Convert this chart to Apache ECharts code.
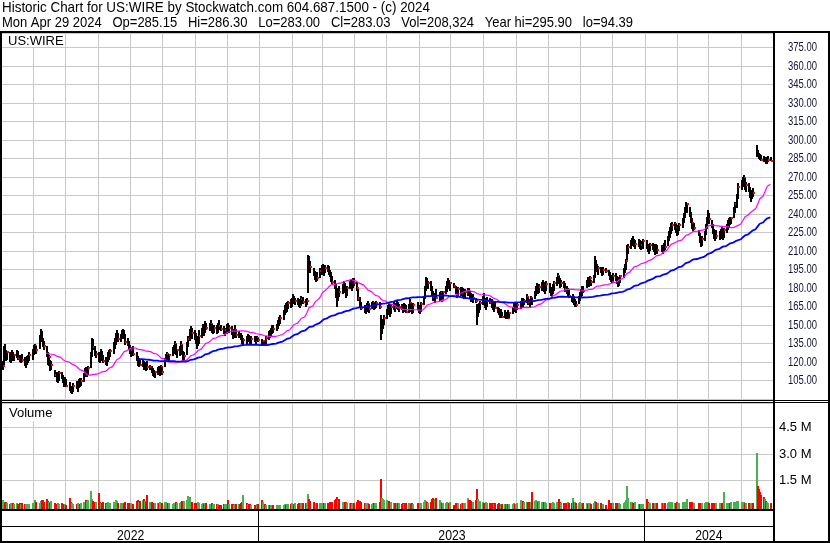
<!DOCTYPE html>
<html>
<head>
<meta charset="utf-8">
<title>Historic Chart for US:WIRE</title>
<script src="https://cdn.jsdelivr.net/npm/echarts@6.0.0/dist/echarts.min.js"></script>
<style>
    html, body { margin: 0; padding: 0; background: #fff; }
    #chart { width: 830px; height: 543px; }
</style>
</head>
<body>
<div id="chart"></div>
<script>
// Daily bars, one line per week (Mon..Fri), first week starts Mon 2 May 2022.
// null = market holiday (no bar that day).
const highs = [
    121, 133, 135, 130, 129,
    128, 126, 130, 128, 127,
    130, 129, 126, 125, 127,
    124, 122, 125, 126, 128,
    null, 131, 134, 135, 133,
    142, 147, 145, 140, 137,
    133, 128, 126, 122, 121,
    null, 114, 112, 110, 113,
    112, 110, 107, 108, 106,
    null, 104, 101, 100, 103,
    105, 103, 106, 107, 107,
    111, 115, 116, 114, 117,
    128, 140, 139, 133, 129,
    128, 127, 131, 129, 126,
    124, 123, 128, 130, 131,
    136, 140, 144, 146, 144,
    143, 146, 147, 146, 143,
    140, 137, 134, 132, 133,
    null, 128, 125, 123, 122,
    122, 121, 120, 119, 121,
    118, 117, 115, 114, 113,
    116, 117, 115, 118, 116,
    123, 127, 128, 126, 127,
    132, 134, 137, 135, 131,
    133, 137, 134, 129, 128,
    136, 141, 147, 149, 148,
    146, 144, 140, 141, 146,
    148, 151, 149, 153, 152,
    152, 154, 151, 149, 150,
    150, 152, 154, null, 150,
    149, 148, 151, 152, 150,
    149, 146, 147, 150, 146,
    145, 144, 144, 142, 140,
    141, 143, 142, 140, 141,
    null, 141, 140, 141, 140,
    null, 139, 138, 137, 141,
    145, 146, 148, 150, 150,
    null, 151, 154, 157, 158,
    162, 166, 168, 169, 170,
    171, 172, 175, 174, 172,
    172, 171, 170, 174, 173,
    171, 172, 207, 206, 202,
    null, 196, 194, 192, 193,
    196, 199, 200, 198, 199,
    199, 198, 195, 193, 190,
    187, 183, 177, 180, 182,
    183, 186, 184, 180, 182,
    186, 187, 185, 188, 188,
    185, 179, 173, 169, null,
    166, 165, 168, 170, 167,
    169, 170, 168, 169, 170,
    169, 158, 152, 155, 158,
    163, 166, 169, 164, 167,
    169, 168, 170, 169, 167,
    167, 166, 168, 167, 166,
    167, 171, 168, 165, 168,
    null, 169, 166, 165, 169,
    174, 182, 189, 188, 186,
    186, 182, 178, 176, 179,
    null, 177, 178, 176, 178,
    182, 186, 188, 187, 185,
    184, null, 182, 179, 181,
    181, 181, 180, 178, 179,
    180, 180, 178, 176, 175,
    172, 167, 166, 168, 170,
    174, 176, 172, 170, 173,
    172, 171, 169, 168, 170,
    165, 164, 162, 163, 161,
    162, 160, 161, 162, 161,
    165, 168, 169, 166, 168,
    null, 170, 172, 172, 171,
    175, 173, 171, 174, 172,
    178, 182, 184, 182, 183,
    185, 187, 185, 183, 186,
    184, 181, 180, 183, 186,
    189, 192, 190, 188, 187,
    186, 184, 182, 180, 179,
    174, 175, 172, 171, 170,
    174, 177, 179, 182, 182,
    187, 189, 188, 190, 187,
    191, 206, 203, 200, 198,
    197, 196, 197, null, 196,
    195, 193, 191, 190, 192,
    192, 190, 187, 189, 191,
    196, 200, 204, 215, 216,
    219, 221, 222, 220, 219,
    null, 220, 219, 218, 220,
    null, 219, 216, 215, 217,
    217, 216, 214, 216, 215,
    null, 215, 214, 217, 219,
    222, 226, 230, 233, 234,
    234, 232, 229, 231, 233,
    237, 241, 246, 250, 249,
    246, 242, 237, 233, 233,
    null, 227, 225, 221, 222,
    226, 232, 238, 243, 241,
    235, 232, 228, 225, 227,
    226, 228, 230, 227, 229,
    232, 235, 237, 238, 238,
    246, 250, 256, 265, null,
    268, 270, 272, 269, 266,
    265, 262, 258, 260, 261,
    295.9, 292, 290, 289, 288,
    287, 286, 285, 286, 287,
    286.3
];

const lows = [
    114, 118, 124, 121, 122,
    120, 119, 121, 122, 121,
    123, 122, 120, 119, 120,
    117, 115, 118, 119, 121,
    null, 122, 126, 128, 127,
    131, 137, 136, 132, 130,
    124, 118, 117, 113, 114,
    null, 108, 104, 103, 105,
    106, 103, 100, 101, 100,
    null, 97, 95, 94.39, 96,
    98, 96, 99, 100, 101,
    104, 108, 109, 108, 110,
    115, 124, 130, 125, 123,
    120, 119, 121, 122, 119,
    118, 117, 120, 122, 124,
    127, 131, 134, 137, 136,
    136, 139, 140, 139, 134,
    133, 130, 127, 124, 125,
    null, 121, 117, 116, 117,
    116, 114, 115, 113, 114,
    114, 111, 109, 108, 107,
    110, 111, 109, 111, 110,
    116, 120, 121, 120, 120,
    125, 127, 129, 126, 123,
    125, 128, 126, 121, 122,
    126, 132, 137, 140, 139,
    138, 135, 131, 133, 135,
    140, 143, 141, 144, 146,
    145, 146, 144, 143, 144,
    143, 144, 146, null, 145,
    143, 141, 143, 145, 144,
    142, 139, 140, 142, 140,
    140, 141, 138, 135, 134,
    135, 136, 138, 134, 135,
    null, 136, 134, 137, 136,
    null, 134, 133, 133, 135,
    138, 140, 141, 143, 144,
    null, 145, 147, 149, 151,
    154, 158, 160, 161, 163,
    164, 165, 167, 168, 166,
    166, 165, 164, 166, 167,
    165, 166, 176, 195, 192,
    null, 190, 187, 185, 186,
    188, 191, 192, 190, 192,
    193, 191, 189, 185, 183,
    179, 172, 165, 170, 173,
    175, 178, 176, 172, 174,
    179, 180, 178, 180, 182,
    178, 170, 164, 162, null,
    160, 159, 161, 163, 160,
    163, 164, 162, 163, 164,
    163, 138, 143, 147, 150,
    155, 158, 160, 157, 159,
    162, 161, 163, 162, 161,
    162, 160, 161, 162, 160,
    160, 162, 161, 159, 160,
    null, 162, 160, 159, 161,
    166, 171, 178, 180, 179,
    178, 174, 170, 168, 171,
    null, 170, 172, 169, 171,
    175, 177, 179, 180, 178,
    180, null, 175, 172, 173,
    174, 176, 173, 171, 172,
    174, 175, 171, 169, 168,
    168, 150, 157, 160, 162,
    166, 168, 164, 162, 165,
    167, 164, 162, 161, 163,
    160, 158, 156, 157, 156,
    156, 155, 156, 155, 156,
    159, 161, 162, 160, 162,
    null, 163, 164, 165, 166,
    168, 166, 164, 167, 166,
    171, 174, 177, 175, 176,
    178, 180, 177, 175, 178,
    176, 174, 173, 175, 178,
    182, 185, 183, 180, 181,
    180, 177, 175, 173, 172,
    169, 168, 166, 165, 165,
    167, 170, 172, 174, 176,
    180, 182, 181, 183, 182,
    184, 188, 195, 193, 191,
    192, 190, 191, null, 192,
    190, 187, 185, 184, 186,
    186, 183, 181, 182, 184,
    188, 192, 195, 203, 208,
    212, 214, 215, 213, 212,
    null, 213, 212, 211, 212,
    null, 212, 209, 208, 210,
    211, 209, 207, 209, 208,
    null, 209, 208, 210, 211,
    214, 218, 221, 224, 226,
    227, 225, 222, 223, 226,
    229, 233, 237, 241, 241,
    238, 233, 228, 226, 227,
    null, 222, 217, 213, 214,
    218, 223, 228, 233, 232,
    229, 224, 220, 218, 220,
    219, 220, 222, 219, 221,
    225, 227, 229, 231, 232,
    237, 241, 245, 252, null,
    260, 262, 263, 260, 258,
    258, 253, 250, 252, 254,
    286, 286, 285, 284, 283,
    282, 282, 281, 281, 282,
    283.00
];

const closes = [
    117, 130, 127, 124, 128,
    122, 125, 127, 124, 126,
    128, 123, 121, 124, 122,
    119, 121, 122, 124, 126,
    null, 129, 131, 133, 130,
    140, 144, 138, 134, 133,
    126, 121, 124, 116, 118,
    null, 110, 106, 108, 111,
    108, 104, 102, 105, 101,
    null, 99, 96, 98, 101,
    100, 101, 104, 102, 105,
    109, 113, 111, 113, 115,
    126, 137, 132, 127, 127,
    125, 122, 128, 124, 121,
    120, 121, 126, 127, 129,
    134, 138, 141, 143, 139,
    141, 144, 145, 142, 136,
    135, 132, 129, 130, 127,
    null, 123, 119, 120, 118,
    120, 116, 118, 117, 116,
    116, 113, 111, 110, 112,
    114, 113, 114, 116, 112,
    121, 125, 127, 122, 126,
    130, 132, 135, 128, 130,
    131, 134, 127, 123, 125,
    134, 139, 145, 146, 144,
    141, 137, 135, 138, 141,
    146, 147, 145, 150, 148,
    149, 151, 146, 147, 148,
    146, 150, 149, null, 147,
    145, 146, 149, 147, 148,
    143, 141, 145, 146, 142,
    143, 142, 140, 137, 138,
    137, 141, 139, 136, 139,
    null, 138, 137, 140, 138,
    null, 135, 137, 134, 140,
    143, 141, 146, 148, 147,
    null, 149, 152, 153, 156,
    160, 164, 163, 167, 168,
    167, 170, 172, 169, 170,
    168, 167, 166, 171, 169,
    168, 170, 201, 199, 197,
    null, 192, 189, 190, 188,
    194, 196, 197, 195, 196,
    195, 192, 191, 187, 185,
    181, 176, 174, 178, 177,
    181, 183, 178, 177, 180,
    184, 182, 183, 186, 184,
    180, 172, 166, 164, null,
    162, 163, 166, 167, 163,
    167, 168, 164, 166, 168,
    165, 146, 149, 153, 156,
    161, 164, 162, 160, 165,
    166, 164, 168, 163, 165,
    164, 162, 166, 163, 161,
    165, 168, 163, 161, 166,
    null, 164, 161, 162, 167,
    172, 180, 185, 183, 184,
    180, 176, 173, 174, 172,
    null, 175, 176, 171, 177,
    180, 184, 185, 182, 184,
    182, null, 177, 174, 179,
    178, 179, 175, 176, 177,
    178, 176, 173, 171, 172,
    170, 161, 164, 165, 168,
    172, 170, 166, 168, 170,
    169, 166, 164, 165, 164,
    162, 159, 158, 160, 157,
    158, 157, 159, 156, 160,
    163, 166, 164, 165, 166,
    null, 168, 170, 169, 170,
    173, 169, 168, 172, 170,
    176, 180, 181, 178, 181,
    183, 184, 179, 181, 183,
    178, 176, 178, 181, 184,
    187, 190, 185, 182, 184,
    182, 179, 176, 178, 174,
    170, 173, 167, 168, 166,
    172, 175, 177, 180, 178,
    185, 184, 186, 188, 185,
    189, 200, 198, 195, 196,
    194, 193, 195, null, 194,
    192, 189, 187, 186, 190,
    188, 184, 183, 187, 190,
    194, 198, 202, 212, 213,
    216, 218, 217, 215, 216,
    null, 217, 214, 215, 218,
    null, 214, 211, 213, 215,
    214, 210, 212, 213, 211,
    null, 211, 210, 214, 213,
    220, 224, 228, 230, 231,
    232, 229, 224, 229, 231,
    235, 239, 244, 247, 248,
    240, 236, 233, 228, 229,
    null, 224, 219, 216, 220,
    224, 230, 235, 240, 236,
    231, 226, 223, 221, 222,
    224, 226, 225, 223, 227,
    230, 233, 235, 234, 237,
    244, 248, 254, 262, null,
    265, 268, 269, 263, 264,
    261, 255, 256, 258, 257,
    291, 288, 287, 285, 284,
    283, 284, 282, 283, 284,
    283.03
];

// shares traded, thousands
const volumes = [
    380, 300, 240, 260, 200,
    180, 220, 160, 250, 190,
    200, 150, 210, 170, 230,
    160, 190, 140, 170, 150,
    null, 210, 180, 380, 260,
    230, 330, 420, 380, 300,
    460, 350, 300, 240, 330,
    null, 200, 180, 230, 160,
    210, 170, 150, 190, 140,
    null, 517, 260, 210, 170,
    180, 230, 150, 170, 200,
    260, 190, 400, 330, 380,
    926, 450, 330, 260, 280,
    796, 300, 250, 220, 260,
    230, 180, 270, 210, 240,
    280, 260, 420, 360, 230,
    200, 220, 180, 240, 260,
    210, 240, 190, 230, 180,
    null, 330, 380, 300, 350,
    400, 460, 330, 300, 684,
    290, 260, 240, 220, 250,
    200, 240, 260, 210, 230,
    260, 300, 220, 210, 240,
    190, 220, 240, 300, 210,
    230, 260, 340, 280, 330,
    380, 645, 550, 300, 260,
    220, 200, 240, 260, 230,
    180, 210, 190, 230, 200,
    170, 150, 200, 160, 190,
    180, 150, 140, null, 90,
    160, 190, 170, 390, 180,
    170, 160, 140, 180, 150,
    160, 190, 220, 260, 700,
    200, 180, 150, 160, 130,
    null, 140, 120, 150, 160,
    null, 400, 300, 180, 110,
    100, 120, 90, 110, 100,
    null, 110, 100, 130, 120,
    140, 160, 130, 180, 150,
    160, 200, 180, 170, 230,
    190, 220, 170, 240, 200,
    230, 210, 758, 480, 330,
    null, 260, 220, 240, 200,
    230, 200, 210, 240, 220,
    210, 230, 260, 300, 280,
    400, 480, 570, 420, 460,
    280, 240, 260, 300, 230,
    220, 210, 190, 230, 210,
    260, 380, 350, 300, null,
    220, 200, 240, 210, 190,
    180, 220, 200, 230, 210,
    260, 1574, 515, 480, 420,
    380, 320, 360, 300, 280,
    240, 220, 210, 230, 200,
    190, 210, 180, 200, 220,
    200, 230, 190, 210, 180,
    null, 200, 230, 210, 240,
    260, 400, 360, 280, 250,
    300, 460, 520, 480, 520,
    null, 400, 280, 250, 240,
    230, 260, 220, 250, 270,
    120, null, 210, 230, 200,
    190, 220, 200, 230, 210,
    520, 380, 400, 330, 300,
    420, 1020, 460, 350, 320,
    280, 250, 230, 260, 240,
    220, 200, 230, 190, 210,
    180, 200, 170, 190, 160,
    170, 150, 180, 160, 190,
    180, 200, 170, 190, 210,
    null, 380, 300, 330, 280,
    260, 300, 280, 310, 855,
    330, 380, 350, 300, 360,
    280, 250, 300, 270, 240,
    220, 250, 230, 260, 240,
    300, 280, 450, 260, 240,
    230, 250, 220, 260, 240,
    250, 520, 300, 260, 240,
    230, 260, 220, 250, 200,
    210, 190, 230, 200, 180,
    220, 320, 260, 230, 210,
    200, 180, 170, null, 110,
    400, 230, 210, 250, 220,
    200, 230, 180, 210, 190,
    240, 300, 420, 1180, 500,
    300, 260, 230, 250, 280,
    null, 160, 170, 150, 180,
    null, 465, 280, 240, 230,
    210, 200, 230, 190, 210,
    null, 220, 200, 230, 210,
    240, 270, 250, 280, 260,
    230, 250, 260, 240, 220,
    260, 280, 300, 270, 465,
    300, 280, 260, 240, 250,
    null, 230, 250, 210, 220,
    240, 260, 280, 300, 250,
    240, 230, 250, 220, 210,
    230, 210, 220, 240, 855,
    250, 230, 240, 220, 260,
    280, 300, 320, 340, null,
    300, 280, 260, 250, 240,
    230, 250, 220, 240, 210,
    3050, 1200, 1000, 870, 680,
    550, 440, 330, 300, 240,
    208
];

const priceTicks = [105, 120, 135, 150, 165, 180, 195, 210, 225, 240, 255, 270, 285, 300, 315, 330, 345, 360, 375];
const yearLabels = ['2022', '2023', '2024'];
const titleLine = 'Historic Chart for US:WIRE by Stockwatch.com 604.687.1500 - (c) 2024';
const quoteLine = 'Mon Apr 29 2024   Op=285.15   Hi=286.30   Lo=283.00   Cl=283.03   Vol=208,324   Year hi=295.90   lo=94.39';

const SANS = "'Liberation Sans', Arial, sans-serif";
const GRID = '#c8c8c8';
const UP = '#4caf50';
const DOWN = '#ff0000';

const DAY = 24 * 3600 * 1000;
const firstMonday = Date.UTC(2022, 4, 2);
const xMin = Date.UTC(2022, 4, 2, 8);
const xMax = Date.UTC(2024, 4, 1, 12);
const VOL_FOOT = 2;   // volume bars run down past zero onto the panel border

// build dated bars
const bars = [];
const vols = [];
let prev = null;
for (let i = 0; i < closes.length; i++) {
    if (closes[i] == null) continue;
    const t = firstMonday + (Math.floor(i / 5) * 7 + (i % 5)) * DAY;
    bars.push([t, lows[i], highs[i], closes[i]]);
    vols.push([t, volumes[i], prev == null || closes[i] >= prev ? 1 : 0]);
    prev = closes[i];
}

function movingAverage(n) {
    const out = [];
    let sum = 0;
    bars.forEach((b, i) => {
        sum += b[3];
        if (i >= n) sum -= bars[i - n][3];
        if (i >= n - 1) out.push([b[0], +(sum / n).toFixed(2)]);
    });
    return out;
}

// month gridlines
const monthStarts = [];
for (let m = 0; m < 23; m++) monthStarts.push(Date.UTC(2022, 5 + m, 1));

function renderMonthLine(params, api) {
    const cs = params.coordSys;
    const x = Math.round(api.coord([api.value(0), api.value(1)])[0]);
    const foot = params.seriesIndex === 1 ? VOL_FOOT : 0;
    return { type: 'rect', shape: { x: x, y: cs.y, width: 1, height: cs.height + foot }, style: { fill: GRID } };
}

function renderPriceBar(params, api) {
    const t = api.value(0);
    const lo = api.coord([t, api.value(1)]);
    const hi = api.coord([t, api.value(2)]);
    const cl = api.coord([t, api.value(3)]);
    const x = Math.round(hi[0]);
    const y1 = Math.round(hi[1]);
    const y2 = Math.round(lo[1]);
    return {
        type: 'group',
        children: [
            { type: 'rect', shape: { x: x, y: y1, width: 2, height: Math.max(2, y2 - y1) }, style: { fill: '#000' } },
            { type: 'rect', shape: { x: x + 1, y: Math.round(cl[1]) - 1, width: 2, height: 2 }, style: { fill: DOWN } }
        ]
    };
}

function renderVolume(params, api) {
    const cs = params.coordSys;
    const p = api.coord([api.value(0), api.value(1)]);
    const base = cs.y + cs.height + VOL_FOOT;
    const x = Math.round(p[0]);
    const y = Math.round(p[1]);
    return {
        type: 'rect',
        shape: { x: x, y: y, width: 2, height: Math.max(1, base - y) },
        style: { fill: api.value(2) ? UP : DOWN }
    };
}

const chart = echarts.init(document.getElementById('chart'));

const hiddenX = {
    type: 'time', min: xMin, max: xMax,
    axisLine: { show: false }, axisTick: { show: false },
    axisLabel: { show: false }, splitLine: { show: false }
};

chart.setOption({
    animation: false,
    useUTC: true,
    backgroundColor: '#fff',
    grid: [
        { left: 2, top: 33, width: 771, height: 366.2 },
        { left: 2, top: 403, width: 771, height: 104 }
    ],
    xAxis: [
        Object.assign({ gridIndex: 0 }, hiddenX),
        Object.assign({ gridIndex: 1 }, hiddenX)
    ],
    yAxis: [
        {
            type: 'value', gridIndex: 0, position: 'right',
            min: 90, max: 386.9, interval: 15,
            axisLine: { show: false }, axisTick: { show: false },
            splitLine: { lineStyle: { color: GRID } },
            axisLabel: { show: false }   // drawn below with a condensed face
        },
        {
            type: 'value', gridIndex: 1, position: 'right',
            min: 0, max: 5900, interval: 1500,
            axisLine: { show: false }, axisTick: { show: false },
            splitLine: { showMinLine: false, lineStyle: { color: GRID } },
            axisLabel: {
                margin: 6, color: '#000', fontFamily: SANS, fontSize: 13,
                formatter: v => (v > 0 && v < 5900) ? (v / 1000).toFixed(1) + ' M' : ''
            }
        }
    ],
    series: [
        {
            type: 'custom', xAxisIndex: 0, yAxisIndex: 0, z: 1, silent: true,
            data: monthStarts.map(t => [t, 100]), encode: { x: 0, y: 1 },
            renderItem: renderMonthLine
        },
        {
            type: 'custom', xAxisIndex: 1, yAxisIndex: 1, z: 1, silent: true,
            data: monthStarts.map(t => [t, 0]), encode: { x: 0, y: 1 },
            renderItem: renderMonthLine
        },
        {
            name: 'US:WIRE', type: 'custom', xAxisIndex: 0, yAxisIndex: 0, z: 3,
            data: bars, encode: { x: 0, y: [1, 2, 3] },
            renderItem: renderPriceBar
        },
        {
            name: 'MA 30', type: 'line', xAxisIndex: 0, yAxisIndex: 0, z: 4,
            data: movingAverage(30), showSymbol: false, symbol: 'none',
            lineStyle: { color: '#ff00ff', width: 1.2 }
        },
        {
            name: 'MA 90', type: 'line', xAxisIndex: 0, yAxisIndex: 0, z: 4,
            data: movingAverage(90), showSymbol: false, symbol: 'none',
            lineStyle: { color: '#0000ff', width: 1.8 }
        },
        {
            name: 'Volume', type: 'custom', xAxisIndex: 1, yAxisIndex: 1, z: 3,
            data: vols, encode: { x: 0, y: 1 },
            renderItem: renderVolume
        }
    ]
});

// the original uses a condensed face; squeeze Liberation Sans to the same widths
const measure = document.createElement('canvas').getContext('2d');
function squeeze(text, size, width) {
    measure.font = size + 'px ' + SANS;
    return width / measure.measureText(text).width;
}

function rect(x, y, w, h, fill) {
    return { type: 'rect', silent: true, z: 100, shape: { x: x, y: y, width: w, height: h }, style: { fill: fill || '#000' } };
}
function label(x, y, text, size, opts) {
    opts = opts || {};
    return {
        type: 'text', silent: true, z: 101, x: x, y: y, scaleX: opts.scaleX || 1,
        style: {
            text: text, fill: opts.color || '#000', fontFamily: SANS, fontSize: size,
            align: opts.align || 'left', verticalAlign: 'middle'
        }
    };
}

const els = [
    label(2, 7.5, titleLine, 15, { scaleX: squeeze(titleLine, 15, 428) }),
    label(2, 22.5, quoteLine, 15, { scaleX: squeeze(quoteLine, 15, 631) }),
    rect(0, 31, 830, 2),
    rect(0, 31, 2, 512),
    rect(828, 31, 2, 512),
    rect(773, 31, 2, 512),
    rect(0, 400, 830, 1),
    rect(0, 402, 830, 1),
    rect(0, 509, 775, 2),
    rect(0, 526, 775, 1),
    rect(0, 541, 830, 2),
    rect(3, 34, 62, 13, '#fff'),
    label(8, 41, 'US:WIRE', 13),
    rect(3, 404, 60, 17, '#fff'),
    label(9, 413, 'Volume', 13)
];

const tickScale = squeeze('375.00', 12.5, 29);
priceTicks.forEach(v => {
    const y = chart.convertToPixel({ yAxisIndex: 0 }, v);
    els.push(label(788, y, v.toFixed(2), 12.5, { scaleX: tickScale, color: '#14143c' }));
});

const yearScale = squeeze('2022', 15, 27.3);
yearLabels.forEach(y => {
    const start = Date.UTC(+y, 0, 1);
    const end = Date.UTC(+y + 1, 0, 1);
    const x1 = chart.convertToPixel({ xAxisIndex: 1 }, Math.max(start, xMin));
    const x2 = chart.convertToPixel({ xAxisIndex: 1 }, Math.min(end, xMax));
    if (start > xMin) els.push(rect(Math.round(x1) - 1, 511, 1, 30));
    els.push(label((x1 + x2) / 2, 535.5, y, 15, { align: 'center', scaleX: yearScale }));
});

chart.setOption({ graphic: { elements: els } });
</script>
</body>
</html>
